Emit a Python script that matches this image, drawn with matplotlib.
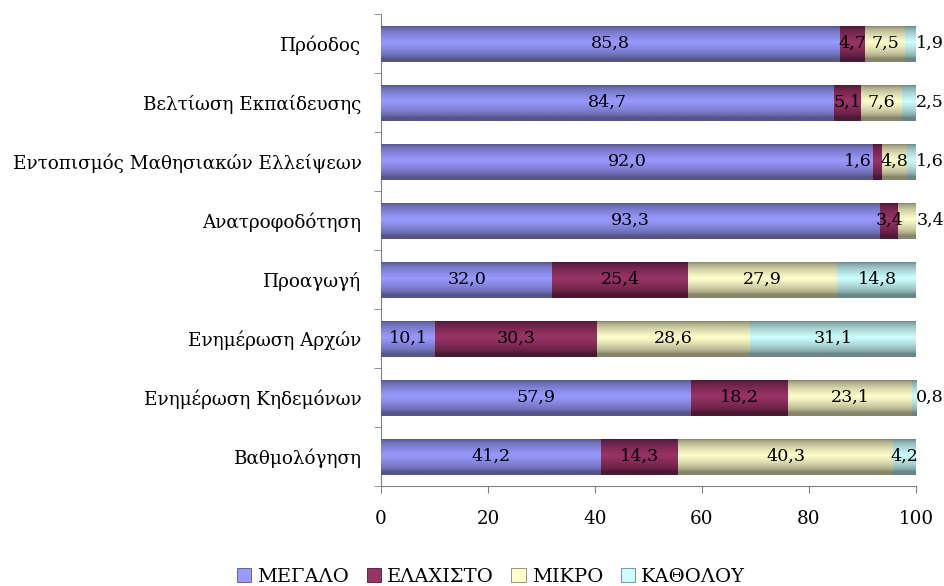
import numpy as np
import matplotlib
matplotlib.use("Agg")
import matplotlib.pyplot as plt
from matplotlib.patches import Patch
from matplotlib.colors import to_rgb

categories = ["Πρόοδος", "Βελτίωση Εκπαίδευσης", "Εντοπισμός Μαθησιακών Ελλείψεων",
              "Ανατροφοδότηση", "Προαγωγή", "Ενημέρωση Αρχών",
              "Ενημέρωση Κηδεμόνων", "Βαθμολόγηση"]
series_names = ["ΜΕΓΑΛΟ", "ΕΛΑΧΙΣΤΟ", "ΜΙΚΡΟ", "ΚΑΘΟΛΟΥ"]
megalo = [85.8, 84.7, 92.0, 93.3, 32.0, 10.1, 57.9, 41.2]
elaxisto = [4.7, 5.1, 1.6, 3.4, 25.4, 30.3, 18.2, 14.3]
mikro = [7.5, 7.6, 4.8, 3.4, 27.9, 28.6, 23.1, 40.3]
katholou = [1.9, 2.5, 1.6, 0.0, 14.8, 31.1, 0.8, 4.2]
xticks = [0, 20, 40, 60, 80, 100]

colors = ["#9999FF", "#993366", "#FFFFCC", "#CCFFFF"]
edge_colors = ["#55558A", "#4A1832", "#85856A", "#6A8585"]

plt.rcParams['font.family'] = ['DejaVu Serif']
FS = 13.2
VFS = 12.6

fig = plt.figure(figsize=(9.44, 5.86), dpi=100)
ax = fig.add_axes([0.4036, 0.1706, 0.5667, 0.8054])

data = [megalo, elaxisto, mikro, katholou]
y = np.arange(len(categories))
bar_h = 0.61


def gradient(c_center, c_edge, n=64):
    c1 = np.array(to_rgb(c_center))
    c0 = np.array(to_rgb(c_edge))
    t = np.linspace(0, 1, n)
    # dark at top and bottom, light centre slightly above middle
    w = np.clip(1 - np.abs(t - 0.45) / 0.45, 0, 1) ** 0.6
    img = c0[None, :] + (c1 - c0)[None, :] * w[:, None]
    return img[:, None, :]


left = np.zeros(len(categories))
for k, vals in enumerate(data):
    vals = np.array(vals)
    bars = ax.barh(y, vals, left=left, height=bar_h, color=colors[k],
                   linewidth=0, zorder=2)
    img = gradient(colors[k], edge_colors[k])
    for i, r in enumerate(bars):
        if vals[i] <= 0:
            continue
        x0, y0 = r.get_x(), r.get_y()
        ax.imshow(img, extent=[x0, x0 + r.get_width(), y0 + r.get_height(), y0],
                  aspect='auto', zorder=3, interpolation='bilinear')
        label = f"{vals[i]:.1f}".replace(".", ",")
        is_last = k == len(data) - 1 or all(data[j][i] == 0 for j in range(k + 1, len(data)))
        if is_last and vals[i] < 3.5:
            ax.text(x0 + vals[i] + 0.05, y[i], label, ha='left', va='center',
                    fontsize=VFS, zorder=5, clip_on=False)
        elif vals[i] < 2:
            ax.text(x0 - 0.3, y[i], label, ha='right', va='center',
                    fontsize=VFS, zorder=5)
        else:
            ax.text(x0 + vals[i] / 2, y[i], label, ha='center', va='center',
                    fontsize=VFS, zorder=5)
    left += vals

ax.set_xlim(0, 100)
ax.set_ylim(len(categories) - 0.5, -0.5)
ax.set_xticks(xticks)
ax.set_xticklabels([str(v) for v in xticks], fontsize=FS)
ax.set_yticks(y)
ax.set_yticklabels(categories, fontsize=FS)
ax.tick_params(axis='y', which='major', length=0, pad=14)
ax.set_yticks(np.arange(-0.5, len(categories), 1), minor=True)
ax.tick_params(axis='y', which='minor', length=5, direction='out', color='#808080')
ax.tick_params(axis='x', length=5, direction='out', color='#808080', pad=12)
for s in ['top', 'right']:
    ax.spines[s].set_visible(False)
for s in ['left', 'bottom']:
    ax.spines[s].set_color('#808080')

handles = [Patch(facecolor=c, edgecolor=e, linewidth=0.6) for c, e in zip(colors, edge_colors)]
fig.legend(handles, series_names, loc='lower center', bbox_to_anchor=(0.52, -0.03),
           ncol=4, frameon=False, fontsize=14, handlelength=0.75, handleheight=0.75,
           handletextpad=0.3, columnspacing=0.9)

fig.savefig("out.png", dpi=100)
